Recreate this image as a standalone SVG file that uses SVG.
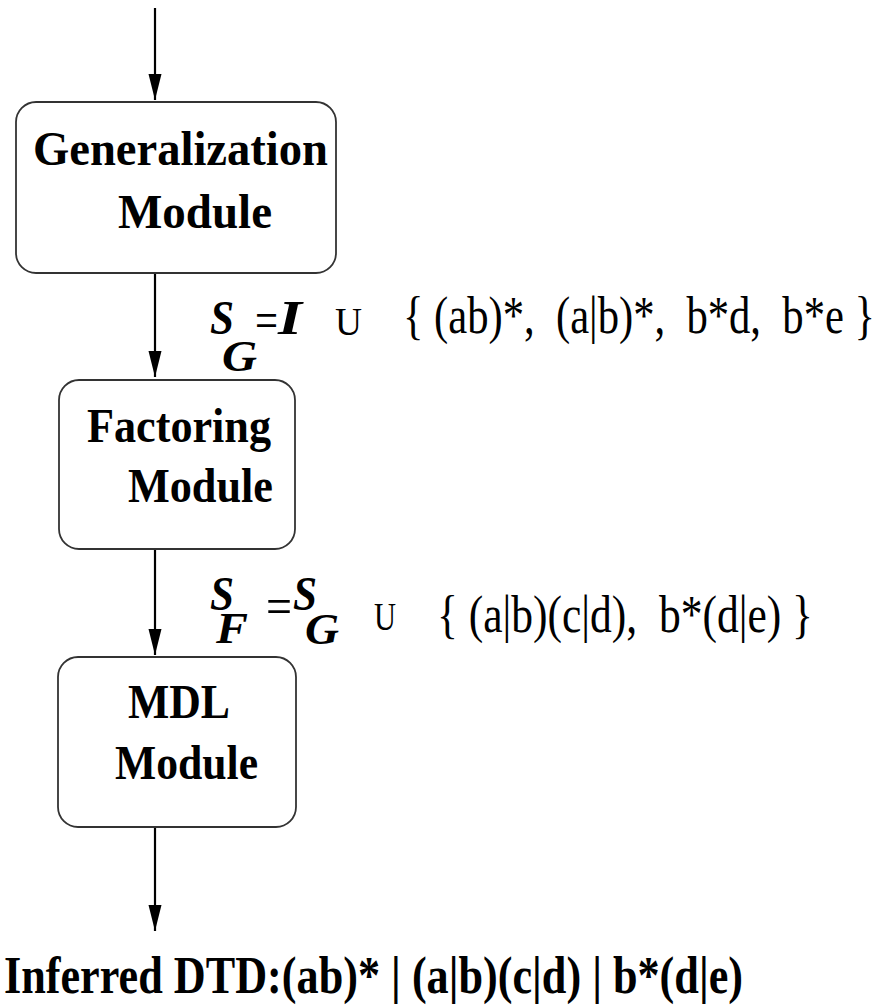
<svg xmlns="http://www.w3.org/2000/svg" width="894" height="1005" viewBox="0 0 894 1005">
<defs>
<style>
.box{fill:#fff;stroke:#333;stroke-width:1.8}
.lbl{font-family:"Liberation Serif","Times New Roman",serif;font-weight:bold;font-size:48px;fill:#000}
.math{font-family:"Liberation Serif","Times New Roman",serif;fill:#000}
.bi{font-weight:bold;font-style:italic}
.edge{stroke:#000;stroke-width:2.2;fill:none;marker-end:url(#ah)}
</style>
<marker id="ah" markerUnits="userSpaceOnUse" markerWidth="28" markerHeight="14" refX="26" refY="6.5" orient="auto">
<path d="M0,0 L26,6.5 L0,13 z" fill="#000"/>
</marker>
</defs>
<rect width="894" height="1005" fill="#fff"/>
<g id="connectors">
<line class="edge" x1="155" y1="8" x2="155" y2="100"/>
<line class="edge" x1="155" y1="273" x2="155" y2="377"/>
<line class="edge" x1="155" y1="549" x2="155" y2="655"/>
<line class="edge" x1="155" y1="827" x2="155" y2="931"/>
</g>
<g id="generalization">
<rect class="box" x="16" y="102" width="320" height="171" rx="20"/>
<text class="lbl" x="33" y="165" textLength="295" lengthAdjust="spacingAndGlyphs">Generalization</text>
<text class="lbl" x="118" y="228" textLength="154" lengthAdjust="spacingAndGlyphs">Module</text>
</g>
<g id="factoring">
<rect class="box" x="59" y="380" width="236" height="169" rx="20"/>
<text class="lbl" x="87" y="442" textLength="184" lengthAdjust="spacingAndGlyphs">Factoring</text>
<text class="lbl" x="128" y="502" textLength="145" lengthAdjust="spacingAndGlyphs">Module</text>
</g>
<g id="mdl">
<rect class="box" x="58" y="657" width="238" height="170" rx="20"/>
<text class="lbl" x="128" y="718" textLength="102" lengthAdjust="spacingAndGlyphs">MDL</text>
<text class="lbl" x="115" y="779" textLength="143" lengthAdjust="spacingAndGlyphs">Module</text>
</g>
<g id="label-sg">
<text class="math bi" x="210" y="334" font-size="48" textLength="24" lengthAdjust="spacingAndGlyphs">S</text>
<text class="math bi" x="222" y="371" font-size="44" textLength="35" lengthAdjust="spacingAndGlyphs">G</text>
<text class="math" x="255" y="338" font-size="52" textLength="23" lengthAdjust="spacingAndGlyphs">=</text>
<text class="math bi" x="278" y="334" font-size="48" textLength="24" lengthAdjust="spacingAndGlyphs">I</text>
<text class="math" x="335" y="335" font-size="40" textLength="27" lengthAdjust="spacingAndGlyphs">U</text>
<text class="math" transform="translate(403,333) scale(1,1.21)" x="0" y="0" font-size="43" textLength="472" lengthAdjust="spacingAndGlyphs" xml:space="preserve">{ (ab)*,  (a|b)*,  b*d,  b*e }</text>
</g>
<g id="label-sf">
<text class="math bi" x="210" y="610" font-size="48" textLength="24" lengthAdjust="spacingAndGlyphs">S</text>
<text class="math bi" x="216" y="643" font-size="44" textLength="32" lengthAdjust="spacingAndGlyphs">F</text>
<text class="math" x="266" y="624" font-size="52" textLength="26" lengthAdjust="spacingAndGlyphs">=</text>
<text class="math bi" x="293" y="610" font-size="48" textLength="24" lengthAdjust="spacingAndGlyphs">S</text>
<text class="math bi" x="305" y="644" font-size="44" textLength="34" lengthAdjust="spacingAndGlyphs">G</text>
<text class="math" x="374" y="630" font-size="40" textLength="22" lengthAdjust="spacingAndGlyphs">U</text>
<text class="math" transform="translate(437,632) scale(1,1.21)" x="0" y="0" font-size="43" textLength="376" lengthAdjust="spacingAndGlyphs" xml:space="preserve">{ (a|b)(c|d),  b*(d|e) }</text>
</g>
<g id="output">
<text class="lbl" x="4" y="993" style="font-size:52px" textLength="739" lengthAdjust="spacingAndGlyphs">Inferred DTD:(ab)* | (a|b)(c|d) | b*(d|e)</text>
</g>
</svg>
